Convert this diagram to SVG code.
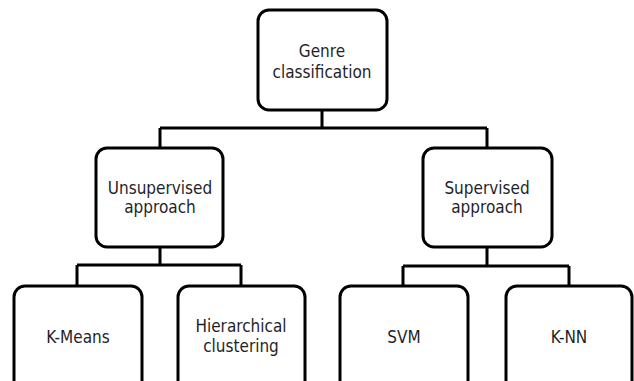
<svg xmlns="http://www.w3.org/2000/svg" width="634" height="381" viewBox="0 0 634 381">
  <style>
    .box { fill: #ffffff; stroke: #000000; stroke-width: 3; }
    .link { fill: none; stroke: #000000; stroke-width: 3; }
    .label { font-family: "DejaVu Sans Condensed", "DejaVu Sans", sans-serif; font-size: 17px; fill: #1f1f2a; text-anchor: middle; }
  </style>
  <rect width="634" height="381" fill="#ffffff"/>

  <!-- tree connectors -->
  <g id="connectors">
    <path class="link" d="M322 110 V128 M160 128 H487 M160 128 V148 M487 128 V148"/>
    <path class="link" d="M160 247 V265 M77 265 H241 M77 265 V286 M241 265 V286"/>
    <path class="link" d="M487 247 V266 M403 266 H569 M403 266 V286 M569 266 V286"/>
  </g>

  <g id="root">
    <rect class="box" x="258" y="10" width="129" height="100" rx="11"/>
    <text class="label" x="322" y="57">Genre</text>
    <text class="label" x="322" y="78">classification</text>
  </g>

  <g id="unsupervised">
    <rect class="box" x="96" y="148" width="127" height="99" rx="11"/>
    <text class="label" x="160" y="194">Unsupervised</text>
    <text class="label" x="160" y="213">approach</text>
  </g>

  <g id="supervised">
    <rect class="box" x="423" y="148" width="129" height="99" rx="11"/>
    <text class="label" x="487" y="194">Supervised</text>
    <text class="label" x="487" y="213">approach</text>
  </g>

  <g id="kmeans">
    <rect class="box" x="14" y="286" width="128" height="110" rx="11"/>
    <text class="label" x="78" y="343">K-Means</text>
  </g>

  <g id="hierarchical">
    <rect class="box" x="178" y="286" width="127" height="110" rx="11"/>
    <text class="label" x="241" y="332">Hierarchical</text>
    <text class="label" x="241" y="352">clustering</text>
  </g>

  <g id="svm">
    <rect class="box" x="340" y="286" width="128" height="110" rx="11"/>
    <text class="label" x="404" y="343">SVM</text>
  </g>

  <g id="knn">
    <rect class="box" x="506" y="286" width="126" height="110" rx="11"/>
    <text class="label" x="569" y="343">K-NN</text>
  </g>
</svg>
